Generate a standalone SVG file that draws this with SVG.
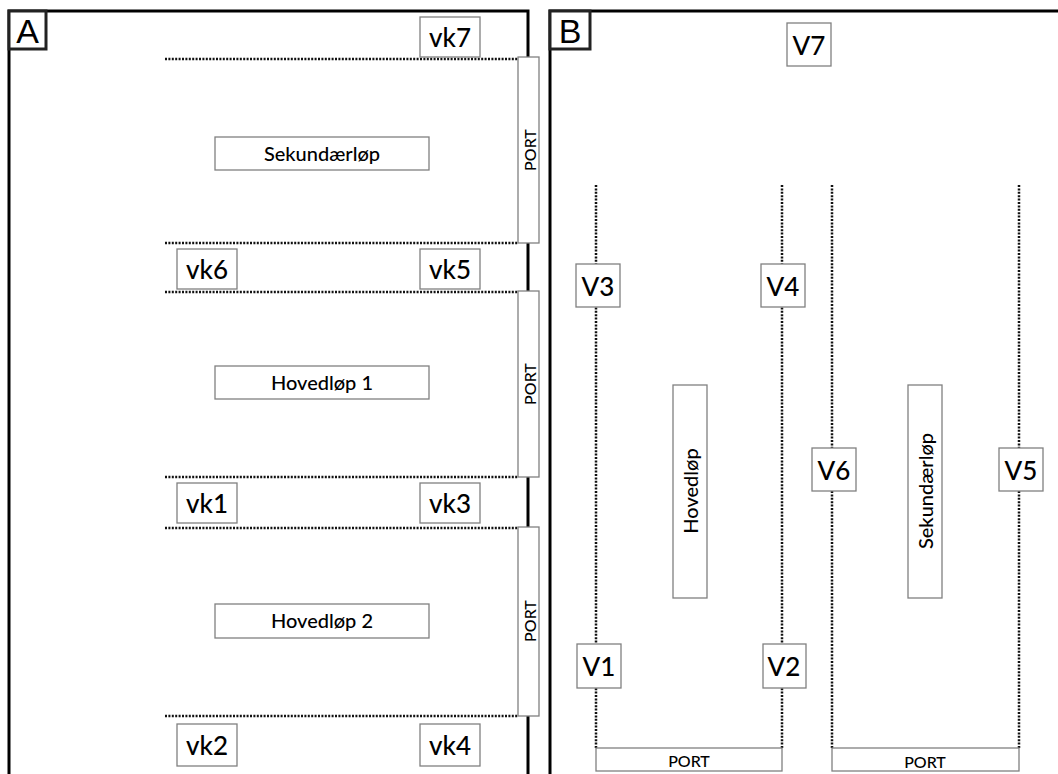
<svg xmlns="http://www.w3.org/2000/svg" width="1058" height="774" viewBox="0 0 1058 774">
<style>
.frame{fill:none;stroke:#000;stroke-width:3}
.lbl{fill:#fff;stroke:#222;stroke-width:3}
.box{fill:#fff;stroke:#808080;stroke-width:1.3}
.dot{fill:none;stroke:#111;stroke-width:2.5;stroke-dasharray:2 1.4}
text{font-family:Lato,"Open Sans","Liberation Sans",sans-serif;font-weight:500;fill:#000;text-anchor:middle;dominant-baseline:central}
.big{font-size:26px}
.mid{font-size:20px}
.sm{font-size:16px}
.pl{font-family:"Liberation Sans",sans-serif;font-weight:400;font-size:34px}
</style>
<rect width="1058" height="774" fill="#fff"/>
<g id="panelA">
<rect class="frame" x="9" y="11" width="519" height="770"/>
<rect class="lbl" x="9" y="11" width="37" height="38"/>
<text class="pl" x="27.5" y="31">A</text>
</g>
<g id="panelB">
<rect class="frame" x="550" y="11" width="520" height="770"/>
<rect class="lbl" x="550" y="11" width="40" height="38"/>
<text class="pl" x="570" y="31">B</text>
</g>
<g id="connectors">
<line class="dot" x1="165" y1="59" x2="518" y2="59"/>
<line class="dot" x1="165" y1="243" x2="518" y2="243"/>
<line class="dot" x1="165" y1="292" x2="518" y2="292"/>
<line class="dot" x1="165" y1="477" x2="518" y2="477"/>
<line class="dot" x1="165" y1="528" x2="518" y2="528"/>
<line class="dot" x1="165" y1="716" x2="518" y2="716"/>
<line class="dot" x1="596" y1="185" x2="596" y2="748"/>
<line class="dot" x1="782" y1="185" x2="782" y2="748"/>
<line class="dot" x1="832" y1="185" x2="832" y2="748"/>
<line class="dot" x1="1019" y1="185" x2="1019" y2="748"/>
</g>
<g id="port-a1"><rect class="box" x="518" y="57" width="21" height="186"/><text class="sm" transform="translate(529 150) rotate(-90)">PORT</text></g>
<g id="port-a2"><rect class="box" x="518" y="291" width="21" height="186"/><text class="sm" transform="translate(529 384) rotate(-90)">PORT</text></g>
<g id="port-a3"><rect class="box" x="518" y="527" width="21" height="189"/><text class="sm" transform="translate(529 621) rotate(-90)">PORT</text></g>
<g id="sekundaerlop-a"><rect class="box" x="215" y="137" width="214" height="33"/><text class="mid" x="322" y="153">Sekundærløp</text></g>
<g id="hovedlop1"><rect class="box" x="215" y="366" width="214" height="33"/><text class="mid" x="322" y="382">Hovedløp 1</text></g>
<g id="hovedlop2"><rect class="box" x="215" y="604" width="214" height="34"/><text class="mid" x="322" y="620">Hovedløp 2</text></g>
<g id="vk7"><rect class="box" x="420" y="17" width="60" height="40"/><text class="big" x="450" y="37">vk7</text></g>
<g id="vk6"><rect class="box" x="177" y="249" width="60" height="40"/><text class="big" x="207" y="269">vk6</text></g>
<g id="vk5"><rect class="box" x="420" y="249" width="60" height="40"/><text class="big" x="450" y="269">vk5</text></g>
<g id="vk1"><rect class="box" x="177" y="483" width="60" height="40"/><text class="big" x="207" y="503">vk1</text></g>
<g id="vk3"><rect class="box" x="420" y="483" width="60" height="40"/><text class="big" x="450" y="503">vk3</text></g>
<g id="vk2"><rect class="box" x="177" y="724" width="60" height="42"/><text class="big" x="207" y="745">vk2</text></g>
<g id="vk4"><rect class="box" x="420" y="724" width="60" height="42"/><text class="big" x="450" y="745">vk4</text></g>
<g id="V7"><rect class="box" x="787" y="23" width="44" height="43"/><text class="big" x="809" y="45">V7</text></g>
<g id="V3"><rect class="box" x="576" y="264" width="44" height="43"/><text class="big" x="598" y="286">V3</text></g>
<g id="V4"><rect class="box" x="761" y="264" width="44" height="43"/><text class="big" x="783" y="286">V4</text></g>
<g id="V1"><rect class="box" x="577" y="644" width="44" height="44"/><text class="big" x="599" y="666">V1</text></g>
<g id="V2"><rect class="box" x="763" y="644" width="43" height="44"/><text class="big" x="784" y="666">V2</text></g>
<g id="V6"><rect class="box" x="812" y="448" width="44" height="43"/><text class="big" x="834" y="470">V6</text></g>
<g id="V5"><rect class="box" x="999" y="448" width="44" height="43"/><text class="big" x="1021" y="470">V5</text></g>
<g id="hovedlop-b"><rect class="box" x="673" y="385" width="34" height="213"/><text class="mid" transform="translate(690 491) rotate(-90)">Hovedløp</text></g>
<g id="sekundaerlop-b"><rect class="box" x="908" y="385" width="34" height="213"/><text class="mid" transform="translate(925 491) rotate(-90)">Sekundærløp</text></g>
<g id="port-b1"><rect class="box" x="596" y="748" width="186" height="23"/><text class="sm" x="689" y="760">PORT</text></g>
<g id="port-b2"><rect class="box" x="832" y="748" width="187" height="23"/><text class="sm" x="925" y="761">PORT</text></g>
</svg>
